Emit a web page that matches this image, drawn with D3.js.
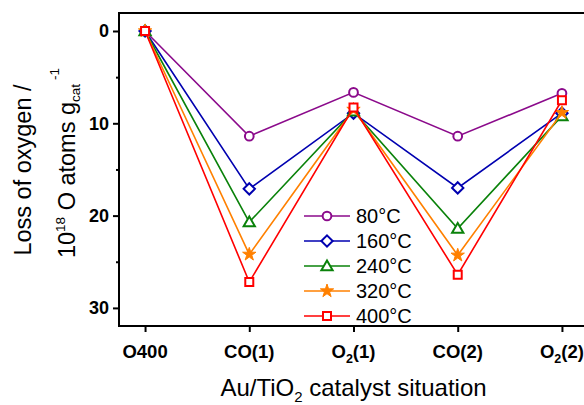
<!DOCTYPE html>
<html><head><meta charset="utf-8">
<script src="https://cdn.jsdelivr.net/npm/d3@7"></script>
<style>body{margin:0;background:#fff}svg{display:block}text{font-family:"Liberation Sans",Arial,sans-serif}</style>
</head><body><svg id="c" width="584" height="405"></svg>
<script>
const categories = ["O400","CO(1)","O2(1)","CO(2)","O2(2)"];
const seriesNames = ["80°C","160°C","240°C","320°C","400°C"];
const s80  = [0, 11.4, 6.65, 11.4, 6.75];
const s160 = [0, 17.1, 8.9, 17.0, 8.9];
const s240 = [0, 20.7, 8.7, 21.4, 9.2];
const s320 = [0, 24.2, 8.5, 24.3, 8.85];
const s400 = [0, 27.2, 8.3, 26.4, 7.5];
const yTicks = [0, 10, 20, 30];
const yMinor = [5, 15, 25];

const series = [s80, s160, s240, s320, s400];
const colors = ["#8B0A8B","#0000B0","#0A820A","#FF8000","#FF0000"];
const shapes = ["circle","diamond","triangle","star","square"];

const svg = d3.select("#c");
const L = 119, T = 13, B = 326, R = 588;
const x = d3.scaleLinear().domain([-0.25, 4.25]).range([L, R]);
const y = d3.scaleLinear().domain([-1.95, 31.96]).range([T, B]);

// frame
svg.append("rect").attr("x", L).attr("y", T).attr("width", R - L).attr("height", B - T)
  .attr("fill", "none").attr("stroke", "#000").attr("stroke-width", 2);

// y axis
const yAxis = d3.axisLeft(y).tickValues(yTicks).tickSize(6).tickPadding(4).tickFormat(d3.format("d"));
const gy = svg.append("g").attr("transform", `translate(${L},0)`).call(yAxis);
gy.select(".domain").remove();
gy.selectAll("line").attr("stroke-width", 2);
gy.selectAll("text").attr("font-size", 18).attr("font-weight", "bold").attr("fill", "#000");
const gym = svg.append("g").attr("transform", `translate(${L},0)`)
  .call(d3.axisLeft(y).tickValues(yMinor).tickSize(3).tickFormat(""));
gym.select(".domain").remove();
gym.selectAll("line").attr("stroke-width", 2);

// x axis
const xAxis = d3.axisBottom(x).tickValues(d3.range(categories.length)).tickSize(6).tickFormat("");
const gx = svg.append("g").attr("transform", `translate(0,${B})`).call(xAxis);
gx.select(".domain").remove();
gx.selectAll("line").attr("stroke-width", 2);

categories.forEach((c, i) => {
  const t = svg.append("text").attr("x", x(i)).attr("y", 358).attr("text-anchor", "middle")
    .attr("font-size", 18.5).attr("font-weight", "bold");
  const m = c.match(/^O2(\(.*\))$/);
  if (m) {
    t.append("tspan").text("O");
    t.append("tspan").attr("font-size", 12.5).attr("dy", 5).text("2");
    t.append("tspan").attr("dy", -5).text(m[1]);
  } else t.text(c);
});

// x title
const xt = svg.append("text").attr("x", (L + R) / 2).attr("y", 396).attr("text-anchor", "middle").attr("font-size", 24);
xt.append("tspan").text("Au/TiO");
xt.append("tspan").attr("font-size", 15).attr("dy", 6).text("2");
xt.append("tspan").attr("dy", -6).text(" catalyst situation");

// y title
svg.append("text").attr("transform", "translate(31,170) rotate(-90)").attr("text-anchor", "middle")
  .attr("font-size", 23.5).text("Loss of oxygen /");
const y2 = svg.append("text").attr("transform", "translate(75,163) rotate(-90)").attr("text-anchor", "middle")
  .attr("font-size", 23.5);
y2.append("tspan").text("10");
y2.append("tspan").attr("font-size", 13.5).attr("dy", -10).text("18");
y2.append("tspan").attr("dy", 10).text(" O atoms g");
y2.append("tspan").attr("font-size", 13.5).attr("dy", 5).text("cat");
y2.append("tspan").attr("font-size", 13.5).attr("dx", 4).attr("dy", -21).text("-1");

// markers
const diamondSym = { draw(ctx, size) { const r = Math.sqrt(size / 2); ctx.moveTo(0, -r); ctx.lineTo(r, 0); ctx.lineTo(0, r); ctx.lineTo(-r, 0); ctx.closePath(); } };
function marker(g, shape, color, cx, cy) {
  const sym = {circle: d3.symbolCircle, diamond: diamondSym, triangle: d3.symbolTriangle,
               star: d3.symbolStar, square: d3.symbolSquare}[shape];
  const size = {circle: 60, diamond: 64, triangle: 55, star: 55, square: 64}[shape];
  g.append("path").attr("d", d3.symbol(sym, size)())
    .attr("transform", `translate(${cx},${cy + (shape === "triangle" ? 1 : 0)})`)
    .attr("fill", shape === "star" ? color : "#fff").attr("stroke", color)
    .attr("stroke-width", shape === "star" ? 1 : 2);
}

const line = d3.line().x((d, i) => x(i)).y(d => y(d));
series.forEach((s, k) => {
  const g = svg.append("g");
  g.append("path").attr("d", line(s)).attr("fill", "none").attr("stroke", colors[k]).attr("stroke-width", 1.6);
  s.forEach((v, i) => marker(g, shapes[k], colors[k], x(i), y(v)));
});

// legend
const lg = svg.append("g");
seriesNames.forEach((n, k) => {
  const cy = 216 + k * 25;
  lg.append("line").attr("x1", 304).attr("x2", 350).attr("y1", cy).attr("y2", cy)
    .attr("stroke", colors[k]).attr("stroke-width", 1.6);
  marker(lg, shapes[k], colors[k], 327, cy);
  lg.append("text").attr("x", 356).attr("y", cy + 7).attr("font-size", 20).text(n);
});
</script></body></html>
